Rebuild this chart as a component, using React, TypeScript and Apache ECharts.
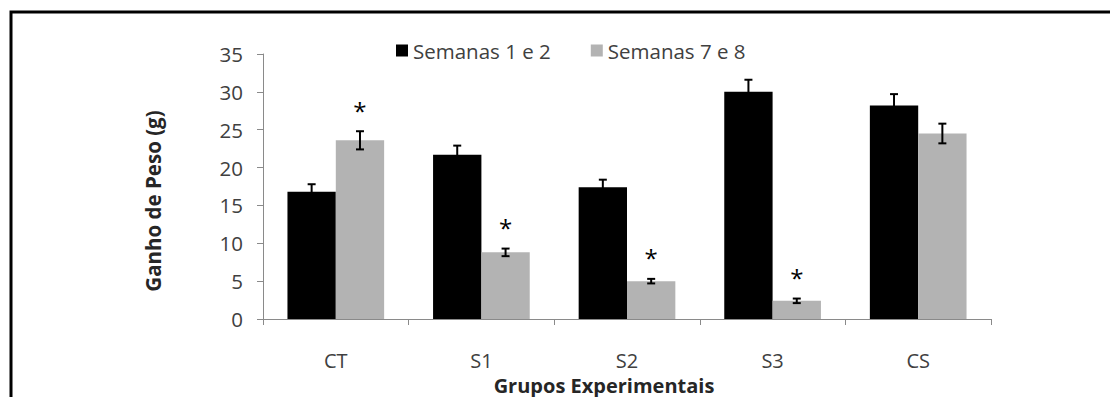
import React, { useEffect, useRef } from "react";
import * as echarts from "echarts";

const categories = ["CT", "S1", "S2", "S3", "CS"];
const seriesNames = ["Semanas 1 e 2", "Semanas 7 e 8"];
const semanas12 = [16.8, 21.7, 17.4, 30.0, 28.2];
const semanas12Err = [1.0, 1.2, 1.0, 1.6, 1.5];
const semanas78 = [23.6, 8.8, 5.0, 2.4, 24.5];
const semanas78Err = [1.2, 0.5, 0.3, 0.3, 1.3];
const significant78 = [true, true, true, true, false];
const yTicks = { min: 0, max: 35, interval: 5 };
const yTitle = "Ganho de Peso (g)";
const xTitle = "Grupos Experimentais";

const FONT = "'Open Sans', 'DejaVu Sans', sans-serif";
const BAR_CAT_GAP = 0.336;

export default function App() {
  const ref = useRef<HTMLDivElement>(null);
  useEffect(() => {
    document.body.style.margin = "0";
    if (!ref.current) return;
    const chart = echarts.init(ref.current, undefined, { renderer: "svg" });

    const errData: any[] = [];
    categories.forEach((_, i) => {
      errData.push([i, semanas12[i], semanas12Err[i], 0, 0]);
      errData.push([i, semanas78[i], semanas78Err[i], 1, significant78[i] ? 1 : 0]);
    });

    const option: any = {
      animation: false,
      backgroundColor: "#ffffff",
      textStyle: { fontFamily: FONT },
      grid: { left: 263, right: 119, top: 54, bottom: 78 },
      legend: {
        data: seriesNames,
        left: 391,
        top: 35,
        itemWidth: 12,
        itemHeight: 12,
        itemGap: 40,
        icon: "rect",
        textStyle: { fontFamily: FONT, fontSize: 20.5, color: "#404040" },
      },
      xAxis: {
        type: "category",
        data: categories,
        axisLine: { lineStyle: { color: "#8a8a8a", width: 1 } },
        axisTick: { show: true, length: 6, lineStyle: { color: "#8a8a8a" } },
        axisLabel: {
          fontFamily: FONT,
          fontSize: 20,
          lineHeight: 20,
          color: "#404040",
          margin: 31,
        },
      },
      yAxis: {
        type: "value",
        min: yTicks.min,
        max: yTicks.max,
        interval: yTicks.interval,
        splitLine: { show: false },
        axisLine: { show: true, lineStyle: { color: "#8a8a8a", width: 1 } },
        axisTick: { show: true, length: 6, lineStyle: { color: "#8a8a8a" } },
        axisLabel: { fontFamily: FONT, fontSize: 20.5, color: "#404040", margin: 20 },
      },
      series: [
        {
          name: seriesNames[0],
          type: "bar",
          data: semanas12,
          itemStyle: { color: "#000000" },
          barGap: "0%",
          barCategoryGap: BAR_CAT_GAP * 100 + "%",
        },
        {
          name: seriesNames[1],
          type: "bar",
          data: semanas78,
          itemStyle: { color: "#b3b3b3" },
          barGap: "0%",
          barCategoryGap: BAR_CAT_GAP * 100 + "%",
        },
        {
          type: "custom",
          data: errData,
          z: 10,
          renderItem: (params: any, api: any) => {
            const cat = api.value(0);
            const val = api.value(1);
            const err = api.value(2);
            const idx = api.value(3);
            const sig = api.value(4);
            const band = api.size([1, 0])[0];
            const bw = (band * (1 - BAR_CAT_GAP)) / 2;
            const center = api.coord([cat, val]);
            const x = center[0] + (idx === 0 ? -bw / 2 : bw / 2);
            const top = api.coord([cat, val + err])[1];
            const bot = api.coord([cat, val - err])[1];
            const cap = 4;
            const style = { stroke: "#000000", lineWidth: 2 };
            const children: any[] = [
              { type: "line", shape: { x1: x, y1: top, x2: x, y2: bot }, style },
              { type: "line", shape: { x1: x - cap, y1: top, x2: x + cap, y2: top }, style },
              { type: "line", shape: { x1: x - cap, y1: bot, x2: x + cap, y2: bot }, style },
            ];
            if (sig) {
              children.push({
                type: "text",
                x: x,
                y: top - 21,
                style: {
                  text: "*",
                  fontFamily: FONT,
                  fontSize: 24,
                  fill: "#000000",
                  align: "center",
                  verticalAlign: "middle",
                },
              });
            }
            return { type: "group", children };
          },
        },
      ],
      graphic: [
        {
          type: "rect",
          shape: { x: 11, y: 12, width: 1110, height: 400 },
          style: { fill: "none", stroke: "#000000", lineWidth: 3 },
          silent: true,
        },
        {
          type: "text",
          x: 153,
          y: 201,
          rotation: Math.PI / 2,
          style: {
            text: yTitle,
            fontFamily: FONT,
            fontSize: 20.5,
            fontWeight: "bold",
            fill: "#262626",
            align: "center",
            verticalAlign: "middle",
          },
        },
        {
          type: "text",
          x: 604,
          y: 385,
          style: {
            text: xTitle,
            fontFamily: FONT,
            fontSize: 20,
            lineHeight: 20,
            fontWeight: "bold",
            fill: "#262626",
            align: "center",
            verticalAlign: "middle",
          },
        },
      ],
    };
    chart.setOption(option);
    return () => chart.dispose();
  }, []);
  return (
    <div
      ref={ref}
      style={{ position: "absolute", left: 0, top: 0, width: 1110, height: 397 }}
    />
  );
}
